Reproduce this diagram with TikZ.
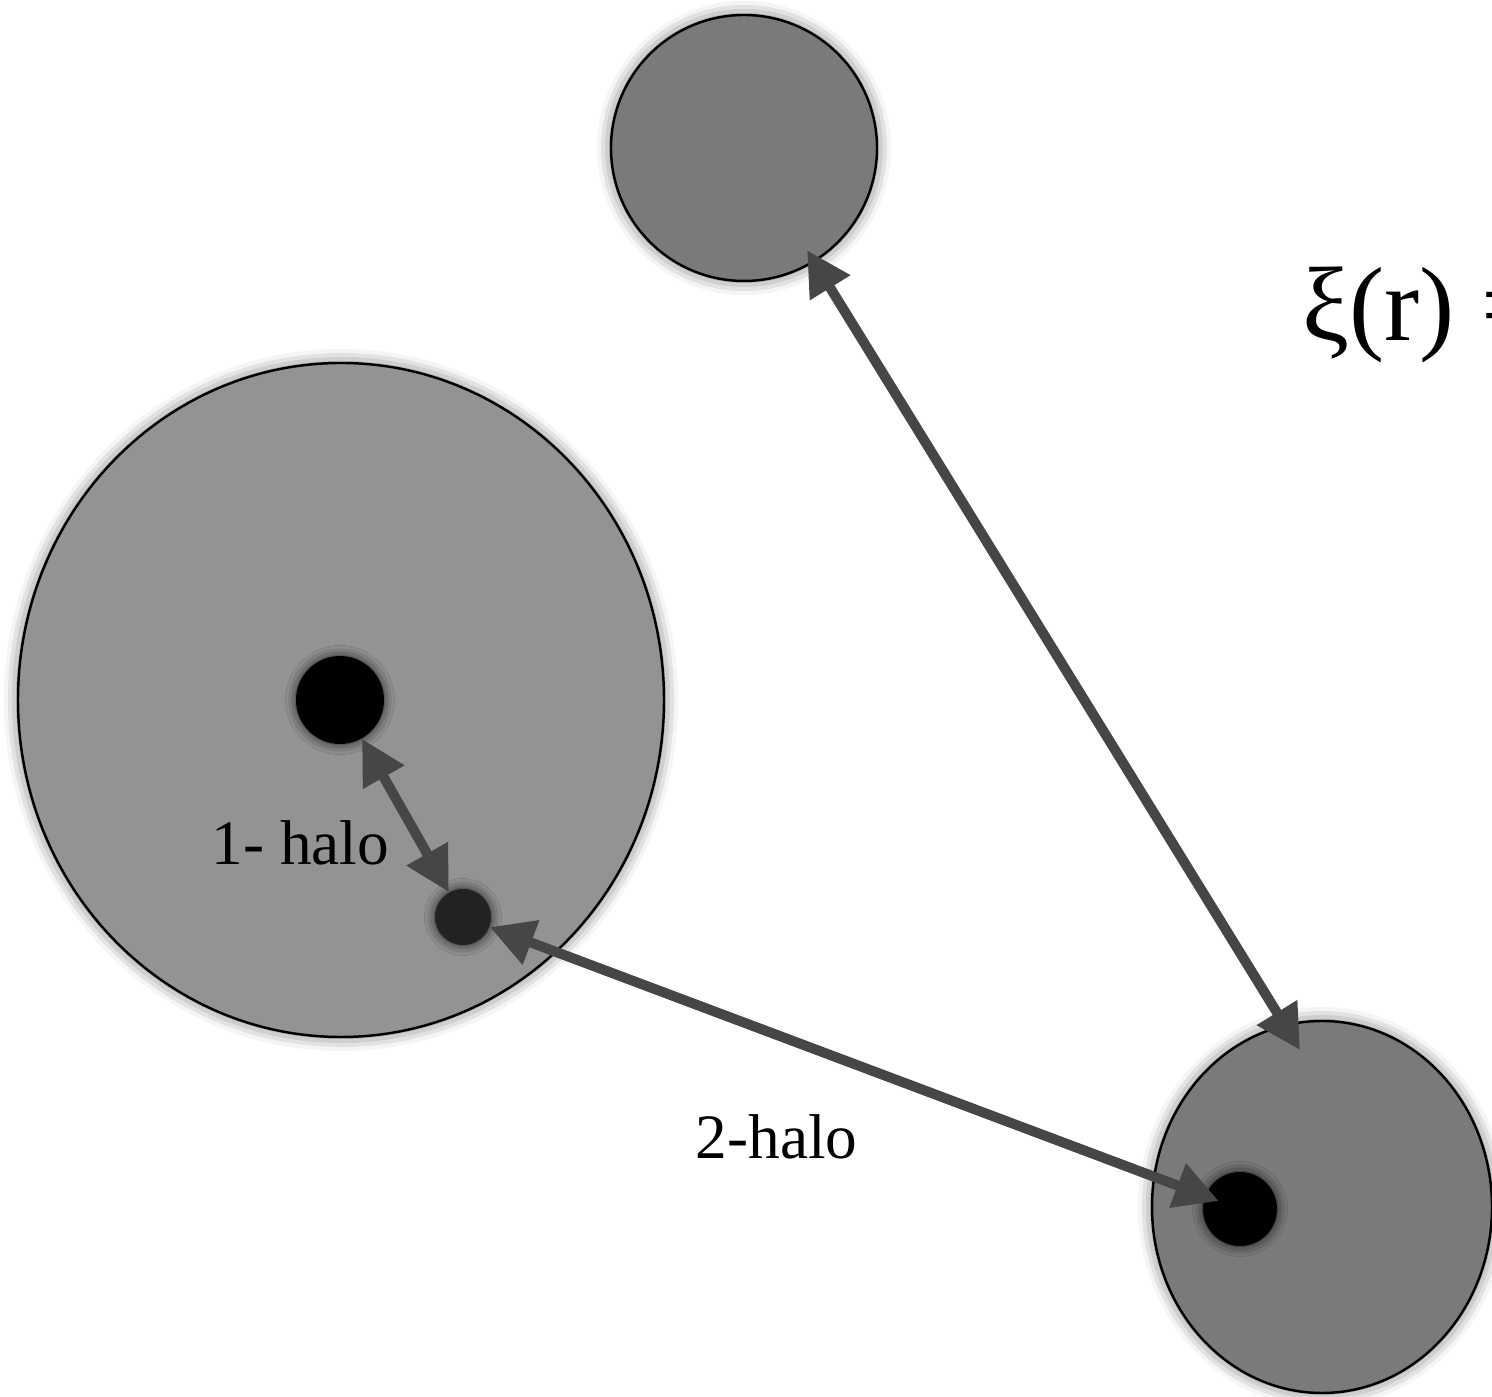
\documentclass[tikz,border=0pt]{standalone}
\usepackage{fontspec}
\setmainfont{Liberation Serif}
\usepackage{xcolor}
\usepackage{tikz}
\usetikzlibrary{shapes.geometric, arrows.meta, shadows.blur, calc}
\definecolor{halofill}{HTML}{939393}
\definecolor{subfill}{HTML}{7A7A7A}
\definecolor{arrowgray}{HTML}{464646}
\definecolor{satgray}{HTML}{222222}
\tikzset{
  glow/.style={blur shadow={shadow xshift=0pt, shadow yshift=0pt,
               shadow blur radius=4pt, shadow opacity=60}},
  halobox/.style={ellipse, draw, line width=0.7pt, inner sep=0pt, glow},
  galdot/.style={circle, fill=black, inner sep=0pt, minimum size=0.88cm,
                 blur shadow={shadow xshift=0pt, shadow yshift=0pt,
                 shadow blur radius=3pt, shadow opacity=80}},
  satdot/.style={galdot, fill=satgray, minimum size=0.56cm},
  arr/.style={{Triangle[length=4.4mm, width=4.5mm]}-{Triangle[length=4.4mm, width=4.5mm]},
              line width=0.1cm, draw=arrowgray},
  lbl/.style={anchor=base west, inner sep=0pt, font=\fontsize{18}{20}\selectfont},
}

\begin{document}
\begin{tikzpicture}
  \useasboundingbox (0,0) rectangle (14.92,13.97);
  \clip (0,0) rectangle (14.92,13.97);

  % Halos
  \node [halobox, fill=halofill, minimum width=6.46cm, minimum height=6.74cm] (bighalo) at (3.41,6.97) {};
  \node [halobox, fill=subfill, minimum width=2.66cm, minimum height=2.66cm] (tophalo) at (7.44,12.49) {};
  \node [halobox, fill=subfill, minimum width=3.40cm, minimum height=3.72cm] (rhalo) at (13.22,1.90) {};

  % Galaxies
  \node [galdot] (cen) at (3.40,6.97) {};
  \node [satdot] (sat) at (4.63,4.80) {};
  \node [galdot, minimum size=0.74cm] (rcen) at (12.40,1.88) {};
  \coordinate (rtip) at (13.00,3.47);

  % Labels
  \node [lbl] (onehalo) at (2.11,5.32) {1- halo};
  \node [lbl] (twohalo) at (6.95,2.38) {2-halo};
  \node [anchor=base west, inner sep=0pt, font=\fontsize{30}{32}\selectfont] (xi) at (13.02,10.56) {ξ(r) =};

  % Edges
  \draw [arr] (cen) -- (sat);
  \draw [arr, shorten >=-0.15cm] (sat) -- (rcen);
  \draw [arr, shorten <=-0.14cm] (tophalo) -- (rtip);
\end{tikzpicture}
\end{document}
